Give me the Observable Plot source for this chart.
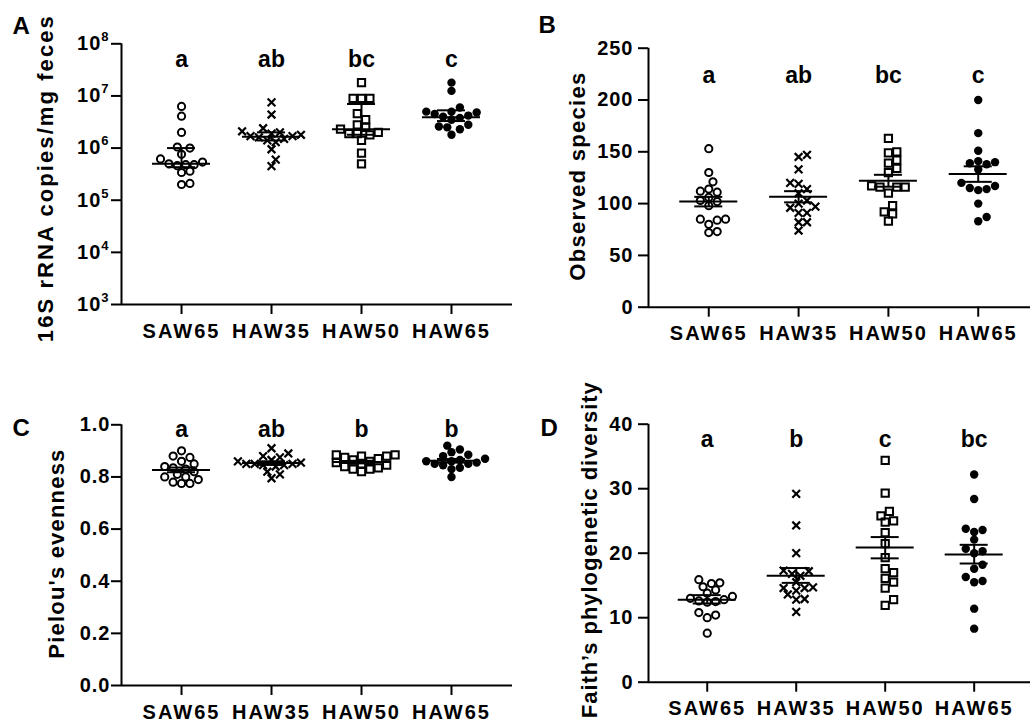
<!DOCTYPE html>
<html>
<head>
<meta charset="utf-8">
<script src="https://cdn.jsdelivr.net/npm/d3@7"></script>
<script src="https://cdn.jsdelivr.net/npm/@observablehq/plot@0.6"></script>
<style>
  html, body { margin: 0; padding: 0; background: #fff; }
  #fig { position: relative; width: 1030px; height: 722px; overflow: hidden; background: #fff; }
  .panel { position: absolute; }
  .panel svg { display: block; overflow: visible; background: transparent; }
  .panel svg text { font-family: "Liberation Sans", Arial, Helvetica, sans-serif; font-weight: bold; fill: #000; }
  .panel svg [aria-label$="tick label"] text, .panel svg .tick text { font-size: 20px; letter-spacing: 1px; }
  .panel svg [aria-label="x-axis tick label"] text { letter-spacing: 2px; }
  .panel svg [aria-label$="tick"] path, .panel svg .tick line { stroke-width: 2px; stroke: #000; }
  .panel svg [aria-label$="axis"] path.domain { display: none; }
</style>
</head>
<body>
<div id="fig"></div>
<script>
// ---------- categories ----------
const groups = ["SAW65", "HAW35", "HAW50", "HAW65"];

// ---------- Panel A: 16S rRNA copies/mg feces (log scale) ----------
const copiesSAW65 = [6.3e6, 4.1e6, 2.0e6, 1.05e6, 1.0e6, 7.6e5, 6.2e5, 5.4e5, 5.0e5, 4.8e5, 4.8e5, 4.6e5, 3.6e5, 3.4e5, 2.1e5, 2.0e5];
const copiesHAW35 = [7.5e6, 4.4e6, 2.4e6, 2.1e6, 2.0e6, 1.9e6, 1.8e6, 1.7e6, 1.7e6, 1.6e6, 1.5e6, 1.4e6, 1.3e6, 9.5e5, 6.0e5, 4.5e5];
const copiesHAW50 = [1.8e7, 9.0e6, 9.0e6, 9.0e6, 4.6e6, 3.5e6, 2.8e6, 2.5e6, 2.3e6, 2.0e6, 1.9e6, 1.9e6, 1.8e6, 1.4e6, 8.0e5, 5.0e5];
const copiesHAW65 = [1.8e7, 1.25e7, 6.0e6, 5.0e6, 5.0e6, 4.8e6, 4.5e6, 4.2e6, 4.0e6, 3.8e6, 3.5e6, 2.8e6, 2.6e6, 2.5e6, 2.3e6, 1.8e6];
const copiesMid  = [5.0e5, 1.65e6, 2.3e6, 3.9e6];
const copiesLow  = [4.3e5, 1.4e6, 1.8e6, 3.3e6];
const copiesHigh = [1.0e6, 2.0e6, 7.0e6, 5.3e6];
const copiesLetters = ["a", "ab", "bc", "c"];
const copiesTicks = [1e3, 1e4, 1e5, 1e6, 1e7, 1e8];

// ---------- Panel B: Observed species ----------
const speciesSAW65 = [153, 130, 121, 114, 112, 111, 106, 103, 102, 98, 85, 85, 84, 80, 73, 72];
const speciesHAW35 = [147, 145, 133, 120, 119, 114, 110, 103, 100, 97, 96, 91, 91, 82, 82, 74];
const speciesHAW50 = [163, 150, 149, 142, 139, 134, 130, 117, 116, 116, 116, 110, 98, 92, 90, 83];
const speciesHAW65 = [200, 168, 151, 141, 140, 139, 138, 133, 120, 117, 115, 114, 113, 100, 87, 83];
const speciesMid  = [102, 106.5, 122, 128.5];
const speciesLow  = [97.3, 101.2, 116.3, 121];
const speciesHigh = [106.5, 112, 127.8, 136];
const speciesLetters = ["a", "ab", "bc", "c"];
const speciesTicks = [0, 50, 100, 150, 200, 250];

// ---------- Panel C: Pielou's evenness ----------
const evennessSAW65 = [0.90, 0.88, 0.875, 0.86, 0.85, 0.84, 0.835, 0.83, 0.82, 0.81, 0.80, 0.80, 0.79, 0.78, 0.775, 0.775];
const evennessHAW35 = [0.91, 0.89, 0.88, 0.875, 0.865, 0.86, 0.855, 0.85, 0.85, 0.85, 0.845, 0.845, 0.84, 0.82, 0.81, 0.795];
const evennessHAW50 = [0.885, 0.885, 0.88, 0.88, 0.875, 0.87, 0.865, 0.86, 0.855, 0.85, 0.845, 0.84, 0.835, 0.83, 0.83, 0.82];
const evennessHAW65 = [0.92, 0.905, 0.895, 0.885, 0.88, 0.87, 0.865, 0.86, 0.86, 0.855, 0.85, 0.85, 0.845, 0.835, 0.83, 0.80];
const evennessMid  = [0.827, 0.853, 0.857, 0.862];
const evennessLow  = [0.818, 0.846, 0.852, 0.855];
const evennessHigh = [0.836, 0.860, 0.862, 0.869];
const evennessLetters = ["a", "ab", "b", "b"];
const evennessTicks = [0, 0.2, 0.4, 0.6, 0.8, 1.0];

// ---------- Panel D: Faith's phylogenetic diversity ----------
const faithSAW65 = [15.9, 15.4, 15.3, 14.8, 14.3, 13.8, 13.3, 13.0, 12.8, 12.6, 12.5, 12.4, 10.8, 10.4, 10.0, 7.6];
const faithHAW35 = [29.2, 24.3, 20.0, 17.3, 17.2, 16.8, 16.5, 15.5, 14.7, 14.6, 14.6, 14.2, 13.6, 12.9, 12.8, 10.9];
const faithHAW50 = [34.4, 29.3, 26.5, 25.8, 25.0, 24.8, 23.2, 21.5, 19.3, 17.6, 17.0, 16.1, 15.5, 14.6, 12.8, 11.9];
const faithHAW65 = [32.2, 28.4, 23.8, 23.6, 23.3, 22.1, 20.7, 20.3, 20.0, 18.2, 17.6, 16.3, 15.7, 15.5, 11.4, 8.3];
const faithMid  = [12.8, 16.5, 20.9, 19.8];
const faithLow  = [12.2, 15.4, 19.2, 18.4];
const faithHigh = [13.5, 17.7, 22.5, 21.3];
const faithLetters = ["a", "b", "c", "bc"];
const faithTicks = [0, 10, 20, 30, 40];

// ---------- styles ----------
const FONT = "'Liberation Sans', Arial, Helvetica, sans-serif";
const markerStyle = [
  {symbol: "circle", r: 3.6, fill: "none", stroke: "#000", strokeWidth: 2},
  {symbol: "times",  r: 3.6, fill: "none", stroke: "#000", strokeWidth: 2.2},
  {symbol: "square", r: 4.1, fill: "none", stroke: "#000", strokeWidth: 2},
  {symbol: "circle", r: 4.2, fill: "#000", stroke: "none"}
];

function panel(cfg) {
  const {left, top, width, height, mt, mb, ml, mr, xMin, xMax, yType, yDomain, yTicks, yFormat,
         yPad, series, mid, low, high, letters, letterDy, title, titleDx, titleDy, titleLength,
         tag, tagDx, tagDy} = cfg;
  const yPix = (yType === "log" ? d3.scaleLog() : d3.scaleLinear()).domain(yDomain).range([height - mb, mt]);
  const pxPerUnit = (width - ml - mr) / (xMax - xMin);
  const STEP = 4.2, COLL = 7.6;
  const idx = groups.map((g, i) => i);

  // simple beeswarm: dodge points horizontally so they do not overlap
  const dotMarks = series.map((vals, gi) => {
    const placed = [];
    const pts = vals.map(v => ({v, py: yPix(v)})).sort((a, b) => d3.ascending(a.v, b.v));
    const out = [];
    for (const p of pts) {
      let off = 0;
      for (let k = 0; k < 60; k++) {
        const cand = k === 0 ? 0 : (k % 2 ? 1 : -1) * Math.ceil(k / 2) * STEP;
        if (placed.every(q => Math.hypot(q.off - cand, q.py - p.py) >= COLL)) { off = cand; break; }
      }
      placed.push({off, py: p.py});
      out.push({value: p.v, x: gi + off / pxPerUnit});
    }
    return Plot.dot(out, {x: "x", y: "value", ...markerStyle[gi]});
  });

  const wide = 29 / pxPerUnit, cap = 14 / pxPerUnit;
  const svg = Plot.plot({
    width, height,
    marginTop: mt, marginBottom: mb, marginLeft: ml, marginRight: mr,
    style: {fontFamily: FONT, fontSize: "20px", fontWeight: "bold", color: "#000", background: "transparent", overflow: "visible"},
    x: {type: "linear", domain: [xMin, xMax], ticks: [0, 1, 2, 3], tickFormat: i => groups[i], tickSize: 10, tickPadding: 9, label: null},
    y: {type: yType, domain: yDomain, ticks: yTicks, tickFormat: yFormat, tickSize: 10, tickPadding: yPad, label: null},
    marks: [
      Plot.ruleX([xMin], {stroke: "#000", strokeWidth: 2}),
      Plot.ruleY([yDomain[0]], {stroke: "#000", strokeWidth: 2}),
      ...dotMarks,
      Plot.ruleY(idx, {y: i => mid[i], x1: i => i - wide, x2: i => i + wide, stroke: "#000", strokeWidth: 2}),
      Plot.ruleY(idx, {y: i => low[i], x1: i => i - cap, x2: i => i + cap, stroke: "#000", strokeWidth: 2}),
      Plot.ruleY(idx, {y: i => high[i], x1: i => i - cap, x2: i => i + cap, stroke: "#000", strokeWidth: 2}),
      Plot.ruleX(idx, {x: i => i, y1: i => low[i], y2: i => high[i], stroke: "#000", strokeWidth: 2}),
      Plot.text(letters, {text: d => d, x: (d, i) => i, frameAnchor: "top", dy: letterDy, lineAnchor: "bottom",
                          textAnchor: "middle", fontSize: 23, fontWeight: "bold"}),
      Plot.text([title], {text: d => d, frameAnchor: "left", rotate: -90, dx: titleDx, dy: titleDy,
                          textAnchor: "middle", lineAnchor: "middle", fontSize: 22, fontWeight: "bold"}),
      Plot.text([tag], {text: d => d, frameAnchor: "top-left", dx: tagDx, dy: tagDy,
                        textAnchor: "start", lineAnchor: "middle", fontSize: 24, fontWeight: "bold"})
    ]
  });

  const sel = d3.select(svg);
  // superscript exponents on log tick labels
  sel.selectAll("text").each(function () {
    const m = /^10\^(\d+)$/.exec(this.textContent);
    if (m) {
      this.textContent = "10";
      d3.select(this).append("tspan").attr("dy", -9).style("font-size", "13px").text(m[1]);
    }
  });
  // stretch the axis title to the reference length
  sel.selectAll("text").filter(function () { return this.textContent === title; })
    .attr("textLength", titleLength).attr("lengthAdjust", "spacing").style("letter-spacing", "0px");

  const div = document.createElement("div");
  div.className = "panel";
  div.style.left = left + "px";
  div.style.top = top + "px";
  div.appendChild(svg);
  document.getElementById("fig").appendChild(div);
}

panel({
  left: 0, top: 0, width: 515, height: 361, mt: 43.3, mb: 57, ml: 121, mr: 3, xMin: -0.667, xMax: 3.678,
  yType: "log", yDomain: [1e3, 1e8], yTicks: copiesTicks, yFormat: d => "10^" + Math.round(Math.log10(d)), yPad: 2,
  series: [copiesSAW65, copiesHAW35, copiesHAW50, copiesHAW65], mid: copiesMid, low: copiesLow, high: copiesHigh,
  letters: copiesLetters, letterDy: 22.7,
  title: "16S rRNA copies/mg feces", titleDx: -75.5, titleDy: 5, titleLength: 326,
  tag: "A", tagDx: -109, tagDy: -17.8
});
panel({
  left: 515, top: 0, width: 515, height: 361, mt: 47.7, mb: 54.3, ml: 133, mr: 0, xMin: -0.671, xMax: 3.582,
  yType: "linear", yDomain: [0, 250], yTicks: speciesTicks, yFormat: d => String(d), yPad: 5,
  series: [speciesSAW65, speciesHAW35, speciesHAW50, speciesHAW65], mid: speciesMid, low: speciesLow, high: speciesHigh,
  letters: speciesLetters, letterDy: 34.3,
  title: "Observed species", titleDx: -70.5, titleDy: -1, titleLength: 208,
  tag: "B", tagDx: -110, tagDy: -22.7
});
panel({
  left: 0, top: 361, width: 515, height: 361, mt: 63.3, mb: 37, ml: 121, mr: 3, xMin: -0.667, xMax: 3.678,
  yType: "linear", yDomain: [0, 1], yTicks: evennessTicks, yFormat: d3.format(".1f"), yPad: 1,
  series: [evennessSAW65, evennessHAW35, evennessHAW50, evennessHAW65], mid: evennessMid, low: evennessLow, high: evennessHigh,
  letters: evennessLetters, letterDy: 11.7,
  title: "Pielou's evenness", titleDx: -65, titleDy: -1, titleLength: 209,
  tag: "C", tagDx: -109, tagDy: 3.7
});
panel({
  left: 515, top: 361, width: 515, height: 361, mt: 62.7, mb: 40.3, ml: 133, mr: 0, xMin: -0.66, xMax: 3.633,
  yType: "linear", yDomain: [0, 40], yTicks: faithTicks, yFormat: d => String(d), yPad: 5,
  series: [faithSAW65, faithHAW35, faithHAW50, faithHAW65], mid: faithMid, low: faithLow, high: faithHigh,
  letters: faithLetters, letterDy: 22.3,
  title: "Faith\u2019s phylogenetic diversity", titleDx: -59, titleDy: -3, titleLength: 336,
  tag: "D", tagDx: -108, tagDy: 4.3
});
</script>
</body>
</html>
